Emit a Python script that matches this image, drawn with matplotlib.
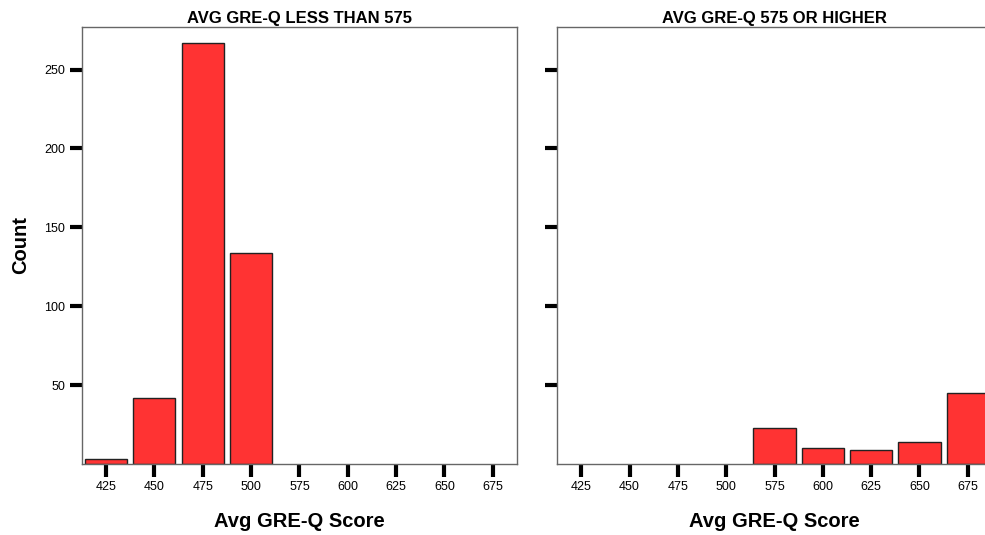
import matplotlib
matplotlib.use("Agg")
import matplotlib.pyplot as plt
import numpy as np

plt.rcParams['font.family'] = ['Liberation Sans', 'DejaVu Sans']

# score categories shared by both panels
scores = ['425', '450', '475', '500', '575', '600', '625', '650', '675']

# counts per panel
low_counts = [3, 42, 267, 134, 0, 0, 0, 0, 0]
high_counts = [0, 0, 0, 0, 23, 10, 9, 14, 45]

titles = ['AVG GRE-Q LESS THAN 575', 'AVG GRE-Q 575 OR HIGHER']
yticks = [50, 100, 150, 200, 250]

fig = plt.figure(figsize=(9.85, 5.35), dpi=100)
ax1 = fig.add_axes([0.0832, 0.1327, 0.4416, 0.8168])
ax2 = fig.add_axes([0.5655, 0.1327, 0.4416, 0.8168])

x = np.arange(len(scores))

for ax, counts, title in zip([ax1, ax2], [low_counts, high_counts], titles):
    counts = np.array(counts)
    # empty categories get no bar outline
    keep = counts > 0
    ax.bar(x[keep], counts[keep], width=0.87, color='#ff3333', edgecolor='#222222', linewidth=1.0)
    ax.set_xlim(-0.5, len(scores) - 0.5)
    ax.set_ylim(0, 277)
    ax.set_xticks(x)
    ax.set_xticklabels(scores, fontsize=9)
    ax.set_yticks(yticks)
    ax.tick_params(axis='both', direction='out', length=9, width=3, color='black', pad=3)
    for s in ax.spines.values():
        s.set_color('#666666')
        s.set_linewidth(1.0)
    ax.set_title(title, fontsize=12, fontweight='bold', pad=3)
    ax.set_xlabel('Avg GRE-Q Score', fontsize=14.5, fontweight='bold', labelpad=14)

ax1.set_yticklabels([str(v) for v in yticks], fontsize=9)
ax2.set_yticklabels([])
ax1.set_ylabel('Count', fontsize=14.5, fontweight='bold', labelpad=10)

fig.savefig('out.png', dpi=100)
